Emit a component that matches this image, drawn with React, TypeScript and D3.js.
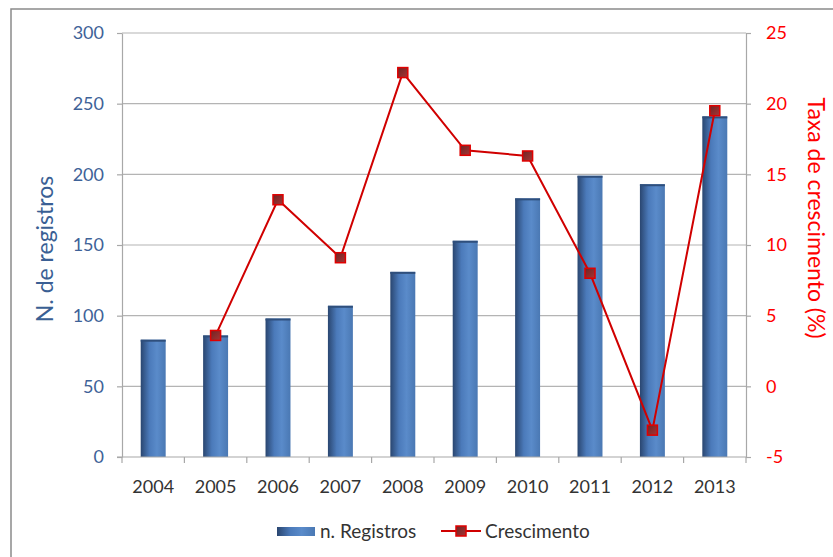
import { useEffect, useRef } from "react";
import * as d3 from "d3";

const years = ["2004", "2005", "2006", "2007", "2008", "2009", "2010", "2011", "2012", "2013"];
const registros = [83, 86, 98, 107, 131, 153, 183, 199, 193, 241];
const crescimento: (number | null)[] = [null, 3.6, 13.2, 9.1, 22.2, 16.7, 16.3, 8.0, -3.1, 19.5];
const leftTicks = [0, 50, 100, 150, 200, 250, 300];
const rightTicks = [-5, 0, 5, 10, 15, 20, 25];

const width = 833;
const height = 557;
const margin = { top: 33, right: 87, bottom: 100, left: 122 };
const font = "Lato, 'Open Sans', sans-serif";

const App = () => {
  const svgRef = useRef<SVGSVGElement>(null);

  useEffect(() => {
    if (!svgRef.current) return;
    const svg = d3.select(svgRef.current);
    svg.selectAll("*").remove();

    const x0 = margin.left;
    const x1 = width - margin.right;
    const y0 = height - margin.bottom;
    const y1 = margin.top;

    const x = d3.scaleBand<string>().domain(years).range([x0, x1]).paddingInner(0.6).paddingOuter(0.3);
    const yL = d3.scaleLinear().domain([0, 300]).range([y0, y1]);
    const yR = d3.scaleLinear().domain([-5, 25]).range([y0, y1]);
    const edges = d3.scaleLinear().domain([0, years.length]).range([x0, x1]);

    // gradients
    const defs = svg.append("defs");
    const g1 = defs.append("linearGradient").attr("id", "barGrad").attr("x1", "0").attr("x2", "1").attr("y1", "0").attr("y2", "0");
    g1.append("stop").attr("offset", "0").attr("stop-color", "#2a4670");
    g1.append("stop").attr("offset", "0.35").attr("stop-color", "#4b7aba");
    g1.append("stop").attr("offset", "0.65").attr("stop-color", "#5a8bca");
    g1.append("stop").attr("offset", "1").attr("stop-color", "#4a78b3");
    const g2 = defs.append("linearGradient").attr("id", "mkGrad").attr("x1", "0").attr("x2", "1").attr("y1", "0").attr("y2", "1");
    g2.append("stop").attr("offset", "0").attr("stop-color", "#6e2424");
    g2.append("stop").attr("offset", "1").attr("stop-color", "#a83434");

    // outer frame
    svg.append("rect")
      .attr("x", 11).attr("y", 9).attr("width", 900).attr("height", 700)
      .attr("fill", "white").attr("stroke", "#8a8a8a").attr("stroke-width", 1.5);

    // gridlines
    svg.append("g")
      .selectAll("line")
      .data(leftTicks.slice(1))
      .enter()
      .append("line")
      .attr("x1", x0).attr("x2", x1)
      .attr("y1", (d) => yL(d)).attr("y2", (d) => yL(d))
      .attr("stroke", "#b4b4b4").attr("stroke-width", 1.2);

    // bars
    svg.append("g")
      .selectAll("rect")
      .data(registros)
      .enter()
      .append("rect")
      .attr("x", (_, i) => x(years[i])!)
      .attr("y", (d) => yL(d))
      .attr("width", x.bandwidth())
      .attr("height", (d) => yL(0) - yL(d))
      .attr("fill", "url(#barGrad)");
    svg.append("g")
      .selectAll("line")
      .data(registros)
      .enter()
      .append("line")
      .attr("x1", (_, i) => x(years[i])!)
      .attr("x2", (_, i) => x(years[i])! + x.bandwidth())
      .attr("y1", (d) => yL(d) + 1).attr("y2", (d) => yL(d) + 1)
      .attr("stroke", "#2f4f7c").attr("stroke-width", 2);

    // left axis
    const leftAxis = svg.append("g")
      .attr("transform", `translate(${x0},0)`)
      .call(d3.axisLeft(yL).tickValues(leftTicks).tickSize(5).tickPadding(13).tickSizeOuter(0).tickFormat((d) => String(d)));
    leftAxis.select(".domain").attr("stroke", "#a8a8a8").attr("stroke-width", 1.2);
    leftAxis.selectAll(".tick line").attr("stroke", "#a8a8a8").attr("stroke-width", 1.2);
    leftAxis.selectAll(".tick text").attr("fill", "#3e6298").attr("font-size", 18).attr("font-family", font);

    // right axis
    const rightAxis = svg.append("g")
      .attr("transform", `translate(${x1},0)`)
      .call(d3.axisRight(yR).tickValues(rightTicks).tickSize(5).tickPadding(15).tickSizeOuter(0).tickFormat((d) => String(d)));
    rightAxis.select(".domain").attr("stroke", "#a8a8a8").attr("stroke-width", 1.2);
    rightAxis.selectAll(".tick line").attr("stroke", "#a8a8a8").attr("stroke-width", 1.2);
    rightAxis.selectAll(".tick text").attr("fill", "#ff0000").attr("font-size", 18).attr("font-family", font);

    // bottom axis
    const bottom = svg.append("g");
    bottom.append("line")
      .attr("x1", x0 - 5).attr("x2", x1)
      .attr("y1", y0).attr("y2", y0)
      .attr("stroke", "#a8a8a8").attr("stroke-width", 1.2);
    bottom.selectAll("line.tk")
      .data(d3.range(years.length + 1))
      .enter()
      .append("line")
      .attr("class", "tk")
      .attr("x1", (d) => edges(d)).attr("x2", (d) => edges(d))
      .attr("y1", y0).attr("y2", y0 + 6)
      .attr("stroke", "#a8a8a8").attr("stroke-width", 1.2);
    bottom.selectAll("text")
      .data(years)
      .enter()
      .append("text")
      .attr("x", (d) => x(d)! + x.bandwidth() / 2)
      .attr("y", y0 + 36)
      .attr("text-anchor", "middle")
      .attr("fill", "#333333")
      .attr("font-size", 18)
      .attr("font-family", font)
      .text((d) => d);

    // growth line
    const pts = crescimento
      .map((v, i) => ({ year: years[i], v }))
      .filter((d) => d.v !== null) as { year: string; v: number }[];
    const line = d3.line<{ year: string; v: number }>()
      .x((d) => x(d.year)! + x.bandwidth() / 2)
      .y((d) => yR(d.v));
    svg.append("path")
      .datum(pts)
      .attr("fill", "none")
      .attr("stroke", "#d00000")
      .attr("stroke-width", 2)
      .attr("d", line);
    svg.append("g")
      .selectAll("rect")
      .data(pts)
      .enter()
      .append("rect")
      .attr("x", (d) => x(d.year)! + x.bandwidth() / 2 - 5)
      .attr("y", (d) => yR(d.v) - 5)
      .attr("width", 10).attr("height", 10)
      .attr("fill", "url(#mkGrad)")
      .attr("stroke", "#e00000").attr("stroke-width", 1.5);

    // axis titles
    svg.append("text")
      .attr("transform", `translate(53,249) rotate(-90)`)
      .attr("text-anchor", "middle")
      .attr("fill", "#3a5f94")
      .attr("font-size", 23)
      .attr("font-family", font)
      .text("N. de registros");
    svg.append("text")
      .attr("transform", `translate(808,218) rotate(90)`)
      .attr("text-anchor", "middle")
      .attr("fill", "#ff0000")
      .attr("font-size", 23)
      .attr("font-family", font)
      .text("Taxa de crescimento (%)");

    // legend
    const lg = svg.append("g");
    lg.append("rect").attr("x", 277).attr("y", 527).attr("width", 38).attr("height", 9).attr("fill", "url(#barGrad)");
    lg.append("text").attr("x", 320).attr("y", 538).attr("fill", "#333333").attr("font-size", 19).attr("font-family", font).text("n. Registros");
    lg.append("line").attr("x1", 441).attr("x2", 481).attr("y1", 531).attr("y2", 531).attr("stroke", "#d00000").attr("stroke-width", 2);
    lg.append("rect").attr("x", 456).attr("y", 526).attr("width", 10).attr("height", 10)
      .attr("fill", "url(#mkGrad)").attr("stroke", "#e00000").attr("stroke-width", 1.5);
    lg.append("text").attr("x", 485).attr("y", 538).attr("fill", "#333333").attr("font-size", 19).attr("font-family", font).text("Crescimento");
  }, []);

  return (
    <div style={{ position: "absolute", left: 0, top: 0, width, height, overflow: "hidden", background: "white" }}>
      <svg ref={svgRef} width={width} height={height}></svg>
    </div>
  );
};

export default App;
